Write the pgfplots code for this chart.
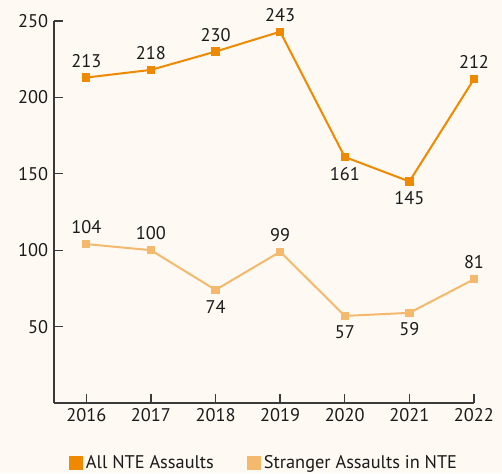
\documentclass[border=0pt]{standalone}
\usepackage{fontspec}
\setmainfont{PT Sans}
\usepackage{pgfplots}
\pgfplotsset{compat=1.18}
\usepackage{pgfplotstable}

\definecolor{bgcol}{HTML}{FEF9F2}
\definecolor{nteorange}{HTML}{EF8900}
\definecolor{ntelight}{HTML}{F5B96E}
\definecolor{axcol}{HTML}{3A3A3A}
\definecolor{txtcol}{HTML}{1A1A1A}

% pos: 1 = label above the point, -1 = below
\pgfplotstableread{
year value pos
2016 213 1
2017 218 1
2018 230 1
2019 243 1
2020 161 -1
2021 145 -1
2022 212 1
}\allnte
\pgfplotstableread{
year value pos
2016 104 1
2017 100 1
2018 74 -1
2019 99 1
2020 57 -1
2021 59 -1
2022 81 1
}\stranger

\begin{document}
\begin{tikzpicture}[font=\fontsize{11}{13}\selectfont, text=txtcol]
\fill[bgcol] (-32.4pt,-42pt) rectangle (268.8pt,241.8pt);
\begin{axis}[
    scale only axis,
    width=252pt, height=229.2pt,
    xmin=2015.5, xmax=2022,
    ymin=0, ymax=250,
    axis x line=bottom, axis y line=left,
    axis line style={axcol, line width=0.8pt, -},
    xtick={2016,...,2022},
    ytick={50,100,150,200,250},
    x tick label style={/pgf/number format/1000 sep={}},
    /pgf/number format/assume math mode=true,
    tick style={axcol, line width=0.8pt},
    tick align=inside,
    major tick length=5.5pt,
    every tick label/.append style={text=txtcol},
    legend style={at={(0.502,-0.157)}, anchor=center, draw=none, fill=none,
        legend columns=2, /tikz/every even column/.append style={column sep=18pt}},
    legend image code/.code={\path[#1, draw=none, fill] (0pt,-4pt) rectangle (8pt,4pt);},
    nodes near coords,
    point meta=explicit symbolic,
    visualization depends on={\thisrow{pos}\as\lpos},
    every node near coord/.append style={anchor=center, yshift=\lpos*10pt, text=txtcol, font=\fontsize{11}{13}\selectfont},
]
\addplot[nteorange, line width=1.2pt, mark=square*, mark size=1.9pt]
    table[x=year, y=value, meta=value] {\allnte};
\addlegendentry{All NTE Assaults}
\addplot[ntelight, line width=1.2pt, mark=square*, mark size=1.9pt]
    table[x=year, y=value, meta=value] {\stranger};
\addlegendentry{Stranger Assaults in NTE}
\end{axis}
\pgfresetboundingbox
\path (-32.4pt,-42pt) rectangle (268.8pt,241.8pt);
\end{tikzpicture}
\end{document}
